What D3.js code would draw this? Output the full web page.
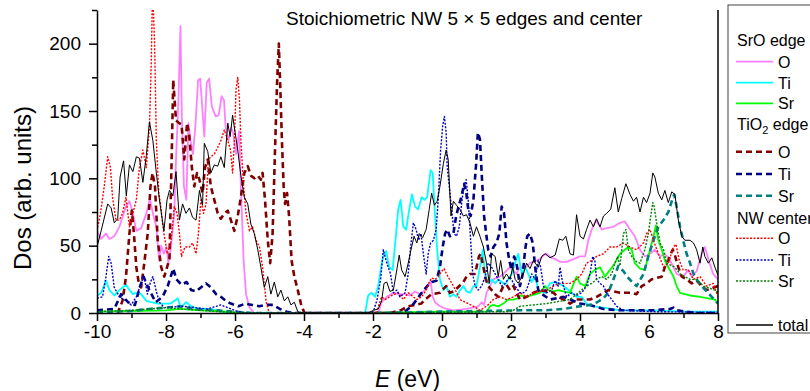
<!DOCTYPE html>
<html lang="en">
<head>
  <meta charset="UTF-8">
  <title>Stoichiometric NW DOS</title>
  <style>
    body { margin: 0; background: #fff; }
    svg { display: block; font-family: "Liberation Sans", Arial, sans-serif; }
    .axis path, .axis line { stroke: #000; stroke-width: 1.5px; }
    .axis text { font-size: 19px; fill: #000; }
    .curve { fill: none; stroke-linejoin: round; }
  </style>
</head>
<body>
  <svg id="chart" width="810" height="391"></svg>
  <script src="https://cdn.jsdelivr.net/npm/d3@7/dist/d3.min.js"></script>
  <script>
    // tick values
    const energyTicks = [-10, -8, -6, -4, -2, 0, 2, 4, 6, 8];
    const energyMinor = [-9, -7, -5, -3, -1, 1, 3, 5, 7];
    const dosTicks = [0, 50, 100, 150, 200];
    const dosMinor = [25, 75, 125, 175, 225];

    // [E (eV), DOS]
    const sroO = [[-10,61],[-9.88,55],[-9.74,59],[-9.64,55],[-9.5,57],[-9.35,64],[-9.16,79],[-9.06,83],[-8.96,74],[-8.86,61],
      [-8.72,63],[-8.57,74],[-8.47,85],[-8.38,74],[-8.28,64],[-8.2,39],[-8.14,50],[-8.06,44],[-7.99,49],[-7.93,37],[-7.86,48],
      [-7.76,74],[-7.71,114],[-7.64,158],[-7.58,213],[-7.54,145],[-7.48,94],[-7.41,84],[-7.35,141],[-7.29,128],[-7.22,118],
      [-7.15,138],[-7.07,173],[-7.01,174],[-6.95,153],[-6.89,131],[-6.82,171],[-6.75,174],[-6.67,153],[-6.56,146],[-6.47,147],
      [-6.39,161],[-6.32,158],[-6.27,138],[-6.19,128],[-6.11,138],[-6.05,133],[-5.97,118],[-5.88,135],[-5.83,94],[-5.75,39],
      [-5.68,14],[-5.58,4],[-5.44,0],[-1.85,0],[-1.75,8],[-1.6,12],[-1.41,15],[-1.22,14],[-1.07,14],[-0.93,13],[-0.78,16],
      [-0.64,14],[-0.49,17],[-0.4,20],[-0.33,24],[-0.27,12],[-0.2,8],[-0.06,5],[0.13,3],[0.33,2],[0.71,3],[1.05,5],[1.15,8],
      [1.22,6],[1.29,15],[1.39,20],[1.49,25],[1.68,27],[1.78,29],[1.97,34],[2.16,29],[2.26,34],[2.45,34],[2.55,37],[2.84,40],
      [2.94,43],[3.03,44],[3.18,41],[3.28,40],[3.42,38],[3.61,38],[3.81,40],[4,42],[4.15,42],[4.24,54],[4.34,62],[4.46,69],
      [4.63,62],[4.77,63],[4.97,64],[5.16,67],[5.3,68],[5.45,62],[5.59,57],[5.74,47],[5.88,42],[6.03,44],[6.17,47],[6.32,42],
      [6.46,44],[6.61,39],[6.8,29],[6.99,27],[7.14,32],[7.24,27],[7.38,31],[7.53,44],[7.62,49],[7.72,40],[7.86,29],[8,25]];

    const sroTi = [[-10,13],[-9.88,15],[-9.74,24],[-9.64,17],[-9.5,13],[-9.35,17],[-9.16,21],[-9.06,17],[-8.96,14],[-8.86,15],
      [-8.72,14],[-8.57,9],[-8.43,8],[-8.24,7],[-8.05,7],[-7.86,7],[-7.66,11],[-7.57,4],[-7.42,8],[-7.32,6],[-7.18,4],[-6.99,3],
      [-6.7,3],[-6.41,1],[-6.02,0],[-2.23,0],[-2.14,13],[-2.04,15],[-1.94,12],[-1.85,20],[-1.76,35],[-1.7,42],[-1.62,46],
      [-1.53,34],[-1.43,32],[-1.33,59],[-1.27,77],[-1.2,84],[-1.12,64],[-1.04,62],[-0.95,77],[-0.87,88],[-0.78,79],[-0.69,77],
      [-0.59,86],[-0.51,84],[-0.43,86],[-0.33,106],[-0.27,104],[-0.2,72],[-0.14,47],[-0.06,25],[0.04,17],[0.13,20],[0.23,12],
      [0.33,14],[0.42,12],[0.52,17],[0.62,20],[0.71,16],[0.81,15],[0.91,20],[1,20],[1.1,34],[1.18,47],[1.25,29],[1.34,22],
      [1.44,25],[1.54,22],[1.63,25],[1.73,23],[1.83,21],[1.92,25],[2.02,29],[2.12,37],[2.21,44],[2.31,29],[2.41,34],[2.5,29],
      [2.6,23],[2.7,28],[2.79,17],[2.99,15],[3.13,22],[3.28,23],[3.37,22],[3.52,20],[3.71,16],[3.9,12],[4.05,12],[4.19,7],
      [4.39,5],[4.68,4],[5.16,2],[6.1,2],[7.1,1],[8,1]];

    const sroSr = [[-10,1],[-9,1.5],[-8,2],[-7.6,3],[-7,2],[-6.5,1.5],[-6,0.5],[-5.5,0],[-2.1,0],[-1.5,0.5],[0,1],[1.3,1],
      [1.39,5],[1.49,6],[1.63,5],[1.78,7],[1.92,10],[2.07,10],[2.21,11],[2.26,13],[2.45,12],[2.84,15],[2.99,20],[3.08,17],
      [3.23,16],[3.37,17],[3.52,16],[3.71,15],[3.9,27],[4,22],[4.15,20],[4.29,29],[4.43,32],[4.58,34],[4.72,27],[4.87,32],
      [5.01,37],[5.16,44],[5.3,47],[5.4,49],[5.5,47],[5.59,37],[5.74,33],[5.88,32],[6.03,47],[6.13,57],[6.2,65],[6.27,54],
      [6.37,47],[6.46,39],[6.56,34],[6.71,27],[6.8,20],[6.9,15],[7.19,13],[7.48,12],[7.91,10],[8,7]];

    const tioO = [[-10,0],[-9.4,0],[-9.26,9],[-9.16,27],[-9.06,59],[-8.99,76],[-8.93,59],[-8.86,34],[-8.8,24],[-8.72,19],
      [-8.63,37],[-8.53,59],[-8.45,94],[-8.39,104],[-8.32,94],[-8.24,54],[-8.14,34],[-8.05,27],[-7.9,40],[-7.84,110],
      [-7.79,173],[-7.71,143],[-7.62,141],[-7.55,140],[-7.47,114],[-7.39,141],[-7.33,133],[-7.25,108],[-7.18,94],[-7.1,104],
      [-7.03,99],[-6.94,89],[-6.87,108],[-6.79,114],[-6.7,94],[-6.6,84],[-6.5,74],[-6.41,70],[-6.31,74],[-6.21,76],[-6.12,69],
      [-6.02,61],[-5.92,72],[-5.83,86],[-5.73,104],[-5.63,109],[-5.54,102],[-5.44,100],[-5.34,102],[-5.25,99],[-5.2,104],
      [-5.13,84],[-5.05,54],[-4.98,37],[-4.91,59],[-4.84,121],[-4.78,171],[-4.73,200],[-4.69,170],[-4.64,128],[-4.59,94],
      [-4.55,81],[-4.49,89],[-4.43,71],[-4.36,39],[-4.28,27],[-4.18,17],[-4.09,7],[-3.99,0],[-1.5,0],[-1.2,2],[-0.98,5],
      [-0.6,7],[-0.49,10],[-0.3,14],[-0.06,15],[0.12,20],[0.23,15],[0.33,16],[0.42,18],[0.62,23],[0.71,27],[0.81,29],[0.95,29],
      [1,34],[1.07,42],[1.12,44],[1.2,34],[1.27,25],[1.34,20],[1.44,17],[1.54,14],[1.63,12],[1.78,20],[1.87,21],[1.97,17],
      [2.07,20],[2.16,15],[2.26,10],[2.45,12],[2.65,15],[2.84,17],[3.23,15],[3.37,12],[3.52,10],[3.71,7],[3.9,10],[4.29,10],
      [4.48,12],[4.68,15],[4.82,17],[5.16,15],[5.5,15],[5.64,14],[5.79,20],[5.93,22],[6.08,25],[6.22,26],[6.37,27],[6.46,34],
      [6.56,39],[6.63,44],[6.69,47],[6.75,43],[6.85,34],[6.95,27],[7.09,25],[7.24,22],[7.38,24],[7.53,20],[7.67,17],[8,20]];

    const tioTi = [[-10,2],[-9.5,3],[-9.3,14],[-9.1,8],[-8.9,6],[-8.75,20],[-8.65,27],[-8.5,18],[-8.3,8],[-8.1,12],[-7.95,20],
      [-7.79,33],[-7.7,25],[-7.55,21],[-7.4,23],[-7.27,17],[-7.13,16],[-6.99,19],[-6.84,22],[-6.7,19],[-6.55,14],[-6.41,12],
      [-6.26,9],[-6.12,7],[-5.9,5],[-5.7,7],[-5.5,6],[-5.3,5],[-5.1,6],[-4.9,6],[-4.7,3],[-4.5,1],[-4.3,0],[-1.2,0],[-1.03,2],
      [-0.88,5],[-0.73,10],[-0.59,15],[-0.43,20],[-0.3,23],[-0.16,24],[-0.06,34],[0.02,49],[0.09,59],[0.15,62],[0.23,57],
      [0.33,59],[0.41,72],[0.48,79],[0.56,86],[0.64,96],[0.7,90],[0.76,77],[0.83,72],[0.91,84],[0.99,111],[1.04,134],[1.1,129],
      [1.16,99],[1.22,72],[1.28,59],[1.34,47],[1.41,42],[1.49,49],[1.58,52],[1.66,59],[1.73,79],[1.8,74],[1.87,52],[1.95,39],
      [2.02,32],[2.09,42],[2.16,37],[2.26,20],[2.34,29],[2.41,47],[2.47,57],[2.55,59],[2.63,52],[2.7,34],[2.79,17],[2.84,15],
      [3.13,10],[3.52,12],[3.71,10],[4,7],[4.29,6],[4.68,3],[5.16,2],[6.13,2],[6.61,3],[6.71,4],[6.8,2],[7.38,0],[8,0]];

    const tioSr = [[-10,0.5],[-9,1.5],[-8.5,3],[-8,4],[-7.6,5],[-7.2,3],[-6.5,2],[-6,1],[-5.5,0],[-1.5,0],[0,1],[2.26,2],
      [3,2],[3.5,3],[4,5],[4.3,6],[4.5,8],[4.68,11],[4.82,15],[4.97,25],[5.11,35],[5.26,31],[5.4,26],[5.55,22],[5.64,20],
      [5.84,29],[5.98,42],[6.13,54],[6.27,64],[6.42,69],[6.56,75],[6.66,83],[6.73,88],[6.8,79],[6.9,64],[6.99,54],[7.09,44],
      [7.19,37],[7.29,29],[7.38,25],[7.53,20],[7.67,16],[7.82,12],[8,7]];

    const nwO = [[-10,61],[-9.9,74],[-9.79,94],[-9.69,116],[-9.61,108],[-9.55,86],[-9.45,69],[-9.35,69],[-9.26,74],[-9.16,86],
      [-9.06,64],[-8.96,74],[-8.86,84],[-8.77,108],[-8.67,121],[-8.57,108],[-8.48,138],[-8.43,183],[-8.39,240],[-8.33,200],
      [-8.28,128],[-8.21,89],[-8.16,81],[-8.11,69],[-8.06,59],[-7.96,44],[-7.86,52],[-7.76,79],[-7.68,74],[-7.61,59],
      [-7.55,42],[-7.45,49],[-7.32,49],[-7.23,52],[-7.13,44],[-7.06,59],[-6.99,84],[-6.91,74],[-6.84,81],[-6.77,114],
      [-6.7,116],[-6.6,118],[-6.5,123],[-6.41,128],[-6.31,136],[-6.21,128],[-6.13,121],[-6.07,104],[-6.02,126],[-5.97,166],
      [-5.92,175],[-5.87,158],[-5.83,128],[-5.75,94],[-5.68,74],[-5.58,61],[-5.49,64],[-5.39,54],[-5.29,49],[-5.2,34],
      [-5.1,9],[-5.01,0],[-1.89,0],[-1.82,7],[-1.75,12],[-1.65,10],[-1.46,13],[-1.27,15],[-1.12,10],[-0.98,15],[-0.73,10],
      [-0.59,12],[-0.46,17],[-0.37,23],[-0.3,26],[-0.2,25],[-0.11,27],[-0.01,31],[0.06,33],[0.13,29],[0.33,20],[0.52,10],
      [0.91,5],[1.1,2],[1.29,5],[1.49,10],[1.68,12],[1.87,10],[2.07,12],[2.26,15],[2.45,12],[2.65,15],[3.03,17],[3.23,20],
      [3.42,22],[3.71,22],[3.9,25],[4.05,29],[4.19,37],[4.34,39],[4.48,42],[4.68,44],[4.87,49],[5.06,49],[5.26,52],[5.45,49],
      [5.64,47],[5.84,52],[5.93,59],[6.03,62],[6.13,54],[6.27,44],[6.42,34],[6.56,37],[6.71,49],[6.78,51],[6.88,39],[6.99,32],
      [7.14,32],[7.29,25],[7.48,27],[7.67,20],[7.86,22],[8,12]];

    const nwTi = [[-10,11],[-9.84,12],[-9.74,27],[-9.66,42],[-9.59,37],[-9.5,19],[-9.35,12],[-9.16,9],[-9.01,6],[-8.86,12],
      [-8.72,22],[-8.64,28],[-8.54,14],[-8.45,23],[-8.38,27],[-8.28,16],[-8.19,8],[-8.05,4],[-7.5,5],[-6.8,3],[-6.41,6],
      [-6.21,4],[-5.92,1],[-5.63,0],[-2.1,0],[-1.99,1],[-1.88,10],[-1.78,25],[-1.7,47],[-1.62,39],[-1.56,34],[-1.49,29],
      [-1.41,15],[-1.31,17],[-1.22,12],[-1.07,15],[-0.98,29],[-0.91,49],[-0.83,67],[-0.75,62],[-0.68,54],[-0.61,59],[-0.54,44],
      [-0.46,29],[-0.4,44],[-0.33,52],[-0.25,54],[-0.17,62],[-0.11,84],[-0.04,121],[0.02,139],[0.07,146],[0.12,134],[0.15,109],
      [0.21,94],[0.28,77],[0.35,59],[0.42,57],[0.5,64],[0.58,84],[0.64,94],[0.7,99],[0.76,84],[0.83,54],[0.89,29],[0.96,20],
      [1.05,17],[1.15,20],[1.25,27],[1.34,37],[1.44,34],[1.54,29],[1.63,25],[1.73,20],[1.83,22],[1.97,27],[2.12,20],[2.26,15],
      [2.36,15],[2.45,17],[2.6,29],[2.7,25],[2.79,39],[2.86,34],[2.94,20],[3.03,15],[3.18,17],[3.28,24],[3.37,20],[3.42,34],
      [3.5,22],[3.61,12],[3.76,15],[3.9,13],[4.05,15],[4.19,20],[4.29,29],[4.37,42],[4.43,39],[4.48,25],[4.58,22],[4.68,20],
      [4.77,15],[4.92,10],[5.06,5],[5.26,2],[6.13,1],[8,0.5]];

    const nwSr = [[-10,1],[-9,2],[-8.5,3],[-8,4],[-7.6,3],[-7,2],[-6.5,1],[-6,0.5],[-5.5,0],[-1.8,0],[0,0.5],[1.9,1],[2.07,2],
      [2.26,5],[3.03,7],[3.71,10],[3.95,15],[4.19,20],[4.34,22],[4.48,25],[4.63,27],[4.77,25],[4.92,29],[5.01,37],[5.09,42],
      [5.16,35],[5.26,59],[5.33,62],[5.4,47],[5.5,42],[5.64,38],[5.74,37],[5.88,47],[5.98,59],[6.05,72],[6.11,82],[6.15,79],
      [6.22,67],[6.32,52],[6.42,47],[6.51,37],[6.75,34],[6.9,29],[7.04,27],[7.19,25],[7.38,25],[7.58,20],[7.91,17],[8,15]];

    const total = [[-10,49],[-9.88,61],[-9.69,81],[-9.59,78],[-9.5,67],[-9.4,70],[-9.33,101],[-9.23,113],[-9.15,87],[-9.06,110],
      [-8.96,105],[-8.86,116],[-8.77,115],[-8.67,97],[-8.57,117],[-8.48,142],[-8.38,128],[-8.28,104],[-8.19,84],[-8.06,61],
      [-7.97,84],[-7.9,91],[-7.8,87],[-7.71,105],[-7.61,69],[-7.52,81],[-7.42,74],[-7.32,78],[-7.23,71],[-7.13,69],[-7.03,91],
      [-6.94,80],[-6.89,126],[-6.79,120],[-6.7,104],[-6.6,110],[-6.5,109],[-6.41,116],[-6.31,108],[-6.21,141],[-6.14,131],
      [-6.07,147],[-6.02,138],[-5.92,121],[-5.83,102],[-5.73,86],[-5.63,81],[-5.54,66],[-5.44,59],[-5.34,47],[-5.25,34],
      [-5.15,19],[-5.05,27],[-4.96,14],[-4.86,23],[-4.76,12],[-4.67,17],[-4.57,9],[-4.47,12],[-4.38,6],[-4.28,8],[-4.18,1],
      [-4.09,0],[-2.14,0],[-1.99,2],[-1.85,3],[-1.75,9],[-1.68,22],[-1.6,23],[-1.51,16],[-1.41,17],[-1.31,32],[-1.24,43],
      [-1.17,32],[-1.07,27],[-0.98,37],[-0.88,49],[-0.81,57],[-0.73,52],[-0.66,59],[-0.56,56],[-0.46,62],[-0.37,77],[-0.3,89],
      [-0.22,80],[-0.14,83],[-0.06,94],[0.04,111],[0.12,121],[0.18,114],[0.26,72],[0.33,83],[0.42,80],[0.52,77],[0.62,72],
      [0.71,73],[0.81,67],[0.91,57],[1,64],[1.1,57],[1.2,49],[1.29,37],[1.37,22],[1.44,44],[1.54,42],[1.63,27],[1.7,39],
      [1.78,25],[1.87,29],[1.97,25],[2.05,34],[2.12,25],[2.21,22],[2.36,29],[2.45,37],[2.55,33],[2.65,39],[2.79,34],[2.89,42],
      [2.99,44],[3.13,41],[3.28,43],[3.4,55],[3.5,54],[3.59,57],[3.71,44],[3.81,43],[3.9,73],[4,57],[4.1,55],[4.19,62],
      [4.29,69],[4.39,64],[4.48,70],[4.58,64],[4.68,72],[4.77,74],[4.89,77],[5.01,93],[5.11,75],[5.21,85],[5.33,96],[5.45,88],
      [5.55,83],[5.64,86],[5.74,75],[5.84,86],[5.93,82],[6.03,89],[6.11,104],[6.17,101],[6.27,89],[6.37,84],[6.46,91],
      [6.56,82],[6.66,90],[6.75,88],[6.85,69],[6.95,57],[7.04,54],[7.19,54],[7.29,52],[7.38,47],[7.48,37],[7.56,49],[7.62,42],
      [7.72,37],[7.82,41],[7.91,34],[8,28]];

    const series = [
      { group: "SrO edge", name: "O",  data: sroO,  color: "#ff80ff", dash: null,    width: 1.8 },
      { group: "SrO edge", name: "Ti", data: sroTi, color: "#00ffff", dash: null,    width: 1.8 },
      { group: "SrO edge", name: "Sr", data: sroSr, color: "#00ff00", dash: null,    width: 1.8 },
      { group: "TiO2 edge", name: "O",  data: tioO,  color: "#800000", dash: "6,4",  width: 2.6 },
      { group: "TiO2 edge", name: "Ti", data: tioTi, color: "#000080", dash: "6,4",  width: 2.6 },
      { group: "TiO2 edge", name: "Sr", data: tioSr, color: "#008080", dash: "6,4",  width: 2.6 },
      { group: "NW center", name: "O",  data: nwO,   color: "#ff0000", dash: "2,1.5", width: 1.4 },
      { group: "NW center", name: "Ti", data: nwTi,  color: "#0000c0", dash: "2,1.5", width: 1.4 },
      { group: "NW center", name: "Sr", data: nwSr,  color: "#008000", dash: "2,1.5", width: 1.4 },
      { group: "",          name: "total", data: total, color: "#000", dash: null,  width: 1 }
    ];

    const svg = d3.select("#chart");
    const x = d3.scaleLinear().domain([-10, 8]).range([97, 718]);
    const y = d3.scaleLinear().domain([0, 225]).range([313, 10]);

    svg.append("clipPath").attr("id", "plot-clip")
      .append("rect")
      .attr("x", x(-10)).attr("y", y(225))
      .attr("width", x(8) - x(-10)).attr("height", y(0) - y(225));

    const line = d3.line().x(d => x(d[0])).y(d => y(d[1]));

    svg.append("g")
      .attr("clip-path", "url(#plot-clip)")
      .selectAll("path")
      .data(series)
      .join("path")
      .attr("class", "curve")
      .attr("d", d => line(d.data))
      .attr("stroke", d => d.color)
      .attr("stroke-width", d => d.width)
      .attr("stroke-dasharray", d => d.dash);

    // axes
    const xAxis = svg.append("g").attr("class", "axis")
      .attr("transform", `translate(0,${y(0)})`)
      .call(d3.axisBottom(x).tickValues(energyTicks).tickSize(8).tickSizeOuter(0).tickPadding(4)
        .tickFormat(d => d < 0 ? "-" + Math.abs(d) : d));
    svg.append("g").attr("class", "axis")
      .attr("transform", `translate(0,${y(0)})`)
      .call(d3.axisBottom(x).tickValues(energyMinor).tickSize(5).tickFormat(""))
      .select(".domain").remove();

    svg.append("g").attr("class", "axis")
      .attr("transform", `translate(${x(-10)},0)`)
      .call(d3.axisLeft(y).tickValues(dosTicks).tickSize(8).tickSizeOuter(0).tickPadding(8));
    svg.append("g").attr("class", "axis")
      .attr("transform", `translate(${x(-10)},0)`)
      .call(d3.axisLeft(y).tickValues(dosMinor).tickSize(5).tickFormat(""))
      .select(".domain").remove();

    // right frame line
    svg.append("line")
      .attr("x1", x(8)).attr("x2", x(8))
      .attr("y1", y(225)).attr("y2", y(0))
      .attr("stroke", "#000").attr("stroke-width", 1.5);

    // titles
    svg.append("text")
      .attr("x", 286).attr("y", 25)
      .attr("font-size", 19)
      .text("Stoichiometric NW 5 \u00d7 5 edges and center");

    const xt = svg.append("text")
      .attr("x", (x(-10) + x(8)) / 2).attr("y", 387)
      .attr("text-anchor", "middle")
      .attr("font-size", 23);
    xt.append("tspan").attr("font-style", "italic").text("E");
    xt.append("tspan").text(" (eV)");

    svg.append("text")
      .attr("transform", "translate(31,188) rotate(-90)")
      .attr("text-anchor", "middle")
      .attr("font-size", 24)
      .text("Dos (arb. units)");

    // legend
    const lg = svg.append("g");
    lg.append("rect")
      .attr("x", 728).attr("y", 5).attr("width", 120).attr("height", 328)
      .attr("fill", "#fff").attr("stroke", "#444").attr("stroke-width", 1);

    const headerY = { "SrO edge": 40, "TiO2 edge": 124, "NW center": 218 };
    const rowY = [61.7, 82.7, 103.3, 151.7, 174, 195.7, 238.3, 260, 281, 325];

    Object.entries(headerY).forEach(([g, yy]) => {
      const t = lg.append("text").attr("x", 737).attr("y", yy + 6).attr("font-size", 16);
      if (g === "TiO2 edge") {
        t.append("tspan").text("TiO");
        t.append("tspan").attr("font-size", 11).attr("dy", 4).text("2");
        t.append("tspan").attr("dy", -4).text(" edge");
      } else {
        t.text(g);
      }
    });

    series.forEach((s, i) => {
      const yy = rowY[i];
      lg.append("line")
        .attr("x1", 736).attr("x2", 773).attr("y1", yy).attr("y2", yy)
        .attr("stroke", s.color)
        .attr("stroke-width", s.name === "total" ? 1.5 : s.width)
        .attr("stroke-dasharray", s.dash);
      lg.append("text")
        .attr("x", 778).attr("y", yy + 6)
        .attr("font-size", 16)
        .text(s.name);
    });
  </script>
</body>
</html>
